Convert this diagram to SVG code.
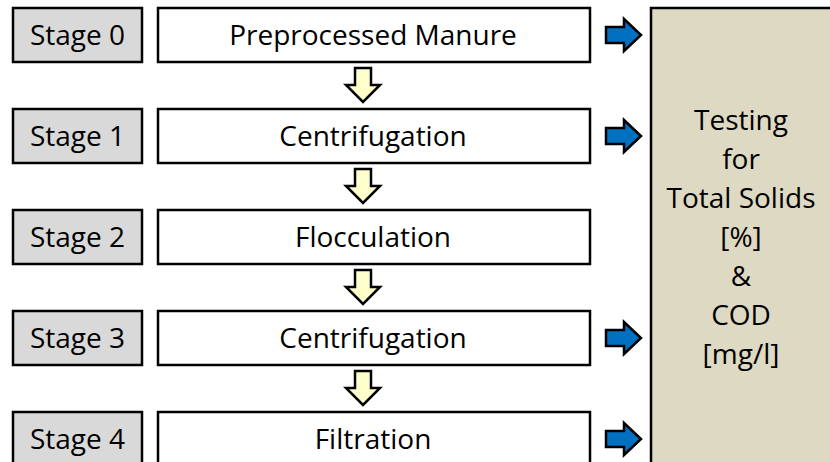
<svg xmlns="http://www.w3.org/2000/svg" width="830" height="462" viewBox="0 0 830 462">
<defs>
<style>
.stage{fill:#d9d9d9;stroke:#000;stroke-width:2.5}
.proc{fill:#fff;stroke:#000;stroke-width:2.5}
.test{fill:#ddd9c3;stroke:#000;stroke-width:2.5}
.t{font-family:"Open Sans",Lato,sans-serif;font-size:28px;fill:#000;text-anchor:middle}
.ya{fill:#ffffcc;stroke:#000;stroke-width:2.5;stroke-linejoin:miter}
.ba{fill:#0070c0;stroke:#000;stroke-width:2.5;stroke-linejoin:miter}
</style>
<path id="down" d="M-8,0 H8 V17 H17 L0,34 L-17,17 H-8 Z"/>
<path id="right" d="M0,-8 H18 V-16 L35,0 L18,16 V8 H0 Z"/>
</defs>
<rect width="830" height="462" fill="#fff"/>
<g id="testing">
<rect class="test" x="651" y="8" width="200" height="462"/>
<text class="t" x="741" y="130">Testing</text>
<text class="t" x="741" y="169">for</text>
<text class="t" x="741" y="208">Total Solids</text>
<text class="t" x="741" y="247">[%]</text>
<text class="t" x="741" y="286">&amp;</text>
<text class="t" x="741" y="325">COD</text>
<text class="t" x="741" y="364">[mg/l]</text>
</g>
<g id="stage0"><rect class="stage" x="13" y="8" width="129" height="54"/><text class="t" x="77.5" y="45">Stage 0</text></g>
<g id="proc0"><rect class="proc" x="158" y="8" width="432" height="54"/><text class="t" x="373" y="45">Preprocessed Manure</text></g>
<g id="stage1"><rect class="stage" x="13" y="109" width="129" height="54"/><text class="t" x="77.5" y="146">Stage 1</text></g>
<g id="proc1"><rect class="proc" x="158" y="109" width="432" height="54"/><text class="t" x="373" y="146">Centrifugation</text></g>
<g id="stage2"><rect class="stage" x="13" y="210" width="129" height="54"/><text class="t" x="77.5" y="247">Stage 2</text></g>
<g id="proc2"><rect class="proc" x="158" y="210" width="432" height="54"/><text class="t" x="373" y="247">Flocculation</text></g>
<g id="stage3"><rect class="stage" x="13" y="311" width="129" height="54"/><text class="t" x="77.5" y="348">Stage 3</text></g>
<g id="proc3"><rect class="proc" x="158" y="311" width="432" height="54"/><text class="t" x="373" y="348">Centrifugation</text></g>
<g id="stage4"><rect class="stage" x="13" y="412" width="129" height="54"/><text class="t" x="77.5" y="449">Stage 4</text></g>
<g id="proc4"><rect class="proc" x="158" y="412" width="432" height="54"/><text class="t" x="373" y="449">Filtration</text></g>
<g id="connectors">
<use href="#down" class="ya" x="363" y="68"/>
<use href="#down" class="ya" x="363" y="169"/>
<use href="#down" class="ya" x="363" y="270"/>
<use href="#down" class="ya" x="363" y="371"/>
<use href="#right" class="ba" x="606" y="35"/>
<use href="#right" class="ba" x="606" y="136"/>
<use href="#right" class="ba" x="606" y="338"/>
<use href="#right" class="ba" x="606" y="439"/>
</g>
</svg>
